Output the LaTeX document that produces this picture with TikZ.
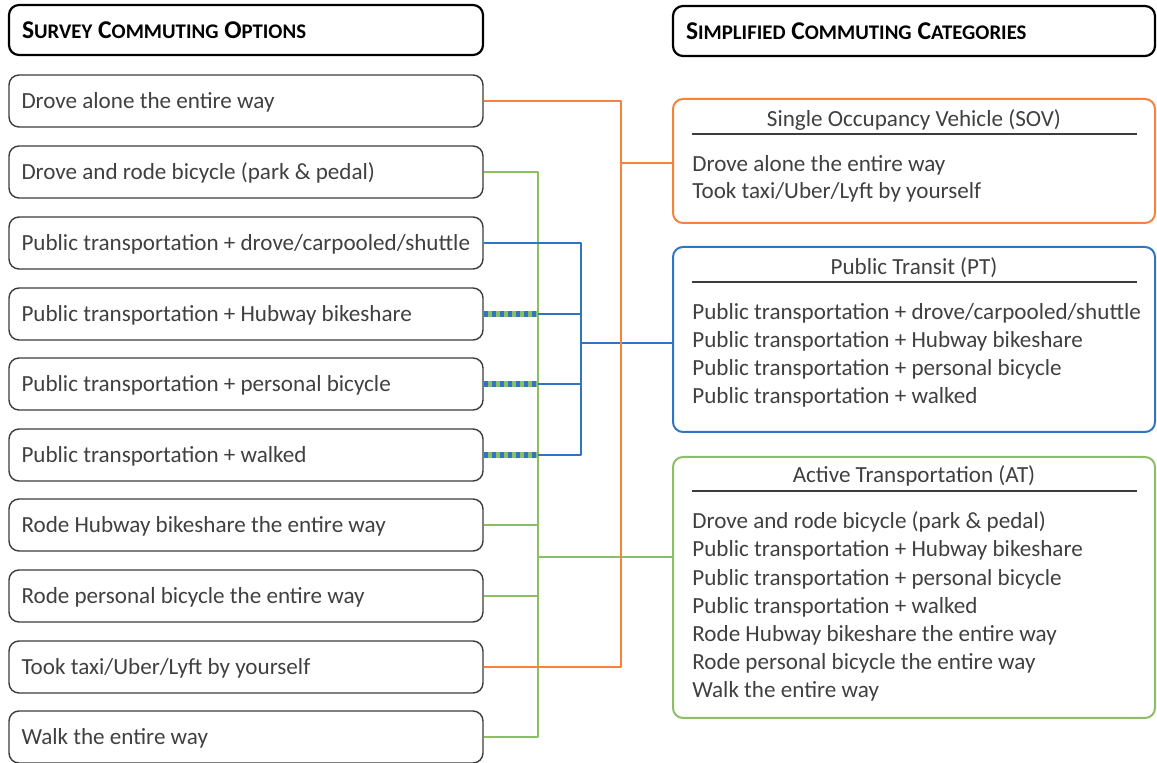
\documentclass[tikz,border=0pt]{standalone}
\usepackage{fontspec}
\setmainfont{Carlito}
\usepackage{tikz}
\usetikzlibrary{positioning}
\definecolor{sovorange}{HTML}{F6823C}
\definecolor{ptblue}{HTML}{2F75C2}
\definecolor{atgreen}{HTML}{8CBE66}
\definecolor{boxgray}{HTML}{3C3C3C}
\definecolor{textgray}{HTML}{404040}
\newcommand{\fakesc}[2]{#1{\fontsize{10.4}{14}\selectfont#2}}
\tikzset{
    bodyfont/.style={font=\fontsize{11.55}{14}\selectfont,text=textgray},
    optbox/.style={draw=boxgray,line width=0.7pt,rounded corners=5pt,minimum width=237pt,minimum height=26pt,
        text width=224.5pt,inner xsep=6.25pt,text height=7.8pt,text depth=0.3pt,align=left,bodyfont,
        execute at begin node={\spaceskip=0pt\xspaceskip=0pt}},
    headbox/.style={draw=black,line width=1.1pt,rounded corners=5pt,minimum height=25pt,
        inner xsep=6.5pt,align=left,font=\fontsize{12.8}{14}\selectfont\bfseries,
        execute at begin node={\spaceskip=0pt\xspaceskip=0pt}},
    catbox/.style={line width=1pt,rounded corners=5pt,minimum width=241pt},
    catitem/.style={anchor=base west,inner sep=0pt,bodyfont},
    cattitle/.style={anchor=base,inner sep=0pt,bodyfont},
    sovline/.style={draw=sovorange,line width=1.1pt},
    ptline/.style={draw=ptblue,line width=1.1pt},
    atline/.style={draw=atgreen,line width=1.1pt},
    mixline/.style={draw=atgreen,line width=3pt,postaction={draw=ptblue,line width=3pt,dash pattern=on 2pt off 2pt}}
}
\begin{document}
\begin{tikzpicture}[x=0.5pt,y=-0.5pt,line cap=butt,line join=round]
    \useasboundingbox (0,0) rectangle (1157,763);
    % headers
    \node[headbox,minimum width=237pt,text width=224pt] (lefthead) at (246,30)
        {\fakesc{S}{URVEY} \fakesc{C}{OMMUTING} \fakesc{O}{PTIONS}};
    \node[headbox,minimum width=241pt,text width=228pt] (righthead) at (914,31)
        {\fakesc{S}{IMPLIFIED} \fakesc{C}{OMMUTING} \fakesc{C}{ATEGORIES}};
    % survey options
    \node[optbox] (o1) at (246,101) {Drove alone the entire way};
    \node[optbox] (o2) at (246,172) {Drove and rode bicycle (park \& pedal)};
    \node[optbox] (o3) at (246,243) {Public transportation + drove/carpooled/shuttle};
    \node[optbox] (o4) at (246,314) {Public transportation + Hubway bikeshare};
    \node[optbox] (o5) at (246,384) {Public transportation + personal bicycle};
    \node[optbox] (o6) at (246,455) {Public transportation + walked};
    \node[optbox] (o7) at (246,525) {Rode Hubway bikeshare the entire way};
    \node[optbox] (o8) at (246,596) {Rode personal bicycle the entire way};
    \node[optbox] (o9) at (246,667) {Took taxi/Uber/Lyft by yourself};
    \node[optbox] (o10) at (246,737) {Walk the entire way};
    % categories
    \node[catbox,draw=sovorange,minimum height=62pt] (sov) at (914,161) {};
    \node[catbox,draw=ptblue,minimum height=92.5pt] (pt) at (914,339.5) {};
    \node[catbox,draw=atgreen,minimum height=130.5pt] (at) at (914,587.5) {};
    \node[cattitle] (sovtitle) at (914,127) {Single Occupancy Vehicle (SOV)};
    \draw[boxgray,line width=0.6pt] (692,134) -- (1137,134);
    \node[catitem] (sov1) at (692,172) {Drove alone the entire way};
    \node[catitem] (sov2) at (692,199) {Took taxi/Uber/Lyft by yourself};
    \node[cattitle] (pttitle) at (914,275) {Public Transit (PT)};
    \draw[boxgray,line width=0.6pt] (692,282) -- (1137,282);
    \node[catitem] (pt1) at (692,320) {Public transportation + drove/carpooled/shuttle};
    \node[catitem] (pt2) at (692,348) {Public transportation + Hubway bikeshare};
    \node[catitem] (pt3) at (692,376) {Public transportation + personal bicycle};
    \node[catitem] (pt4) at (692,404) {Public transportation + walked};
    \node[cattitle] (attitle) at (914,483) {Active Transportation (AT)};
    \draw[boxgray,line width=0.6pt] (692,491) -- (1137,491);
    \node[catitem] (at1) at (692,529) {Drove and rode bicycle (park \& pedal)};
    \node[catitem] (at2) at (692,557) {Public transportation + Hubway bikeshare};
    \node[catitem] (at3) at (692,586) {Public transportation + personal bicycle};
    \node[catitem] (at4) at (692,614) {Public transportation + walked};
    \node[catitem] (at5) at (692,642) {Rode Hubway bikeshare the entire way};
    \node[catitem] (at6) at (692,670) {Rode personal bicycle the entire way};
    \node[catitem] (at7) at (692,698) {Walk the entire way};
    % junctions
    \coordinate (gj) at (538,557);
    \coordinate (pj) at (581,343);
    \coordinate (sj) at (621,163);
    % active transportation
    \draw[atline] (o2.east) -| (gj) |- (o10.east);
    \draw[atline] (o7.east) -- (o7.east -| gj);
    \draw[atline] (o8.east) -- (o8.east -| gj);
    \draw[atline] (gj) -- (gj -| at.west);
    % public transit
    \draw[ptline] (o3.east) -| (pj) |- (o6.east -| gj);
    \draw[ptline] (o4.east -| gj) -- (o4.east -| pj);
    \draw[ptline] (o5.east -| gj) -- (o5.east -| pj);
    \draw[ptline] (pj) -- (pj -| pt.west);
    \draw[mixline] (o4.east) -- (o4.east -| gj);
    \draw[mixline] (o5.east) -- (o5.east -| gj);
    \draw[mixline] (o6.east) -- (o6.east -| gj);
    % single occupancy
    \draw[sovline] (o1.east) -| (sj) |- (o9.east);
    \draw[sovline] (sj) -- (sj -| sov.west);
\end{tikzpicture}
\end{document}
